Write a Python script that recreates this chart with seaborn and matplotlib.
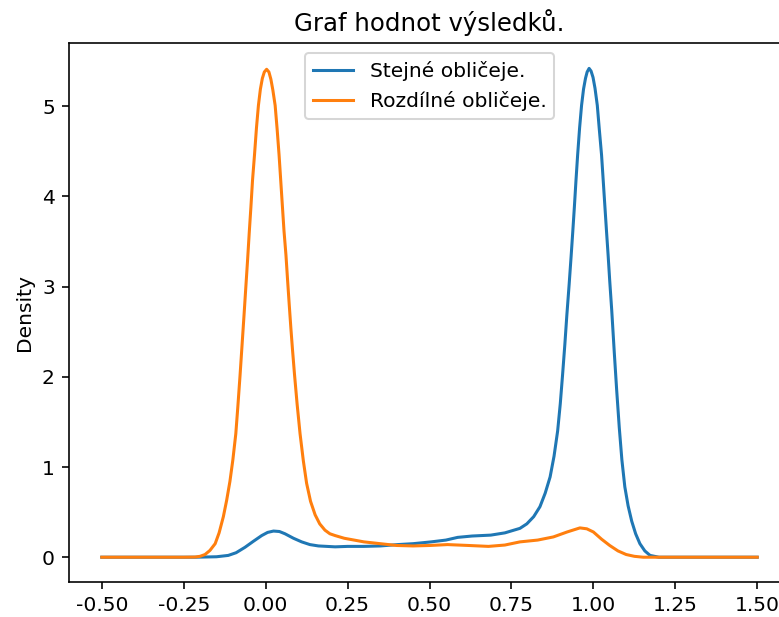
import numpy as np
import pandas as pd
import matplotlib
matplotlib.use('Agg')
import matplotlib.pyplot as plt
import seaborn as sns

# density curves (x, density)
stejne_x = [-0.50, -0.215, -0.15, -0.114, -0.09, -0.063, -0.038, -0.012, 0.006, 0.024, 0.042,
            0.059, 0.085, 0.11, 0.135, 0.161, 0.212, 0.25, 0.30, 0.35, 0.403, 0.45, 0.505, 0.55,
            0.586, 0.63, 0.687, 0.73, 0.776, 0.797, 0.818, 0.837, 0.853, 0.868, 0.880, 0.891,
            0.899, 0.906, 0.913, 0.919, 0.926, 0.932, 0.937, 0.942, 0.947, 0.952, 0.958, 0.964,
            0.970, 0.976, 0.981, 0.987, 0.993, 0.999, 1.005, 1.012, 1.018, 1.025, 1.030, 1.035,
            1.040, 1.045, 1.050, 1.056, 1.060, 1.064, 1.071, 1.079, 1.087, 1.096, 1.106, 1.117,
            1.129, 1.142, 1.157, 1.173, 1.20, 1.25, 1.50]
stejne_y = [0.0, 0.0, 0.005, 0.02, 0.05, 0.11, 0.175, 0.24, 0.275, 0.29, 0.285,
            0.26, 0.21, 0.17, 0.14, 0.125, 0.115, 0.12, 0.12, 0.125, 0.14, 0.15, 0.17, 0.19,
            0.22, 0.235, 0.245, 0.27, 0.32, 0.37, 0.45, 0.56, 0.71, 0.89, 1.12, 1.40,
            1.70, 2.02, 2.36, 2.68, 3.02, 3.33, 3.60, 3.88, 4.18, 4.46, 4.76, 5.01,
            5.19, 5.31, 5.38, 5.42, 5.39, 5.32, 5.20, 5.01, 4.75, 4.46, 4.18, 3.90,
            3.62, 3.35, 3.06, 2.74, 2.50, 2.26, 1.86, 1.44, 1.08, 0.78, 0.57, 0.40,
            0.26, 0.15, 0.07, 0.02, 0.0, 0.0, 0.0]

rozdilne_x = [-0.50, -0.25, -0.215, -0.20, -0.185, -0.17, -0.154, -0.142, -0.129, -0.119, -0.109,
              -0.10, -0.091, -0.085, -0.078, -0.072, -0.066, -0.060, -0.055, -0.050, -0.045,
              -0.040, -0.034, -0.028, -0.022, -0.016, -0.010, -0.004, 0.003, 0.010, 0.016, 0.022,
              0.029, 0.035, 0.041, 0.046, 0.051, 0.056, 0.062, 0.067, 0.072, 0.077, 0.082, 0.088,
              0.096, 0.105, 0.115, 0.125, 0.137, 0.151, 0.165, 0.181, 0.196, 0.212, 0.24, 0.27,
              0.30, 0.35, 0.40, 0.45, 0.50, 0.555, 0.62, 0.68, 0.73, 0.776, 0.83, 0.878, 0.92,
              0.959, 0.98, 1.00, 1.025, 1.05, 1.075, 1.10, 1.125, 1.152, 1.25, 1.50]
rozdilne_y = [0.0, 0.0, 0.002, 0.01, 0.03, 0.075, 0.15, 0.27, 0.45, 0.63, 0.84,
              1.08, 1.37, 1.66, 2.02, 2.35, 2.68, 3.02, 3.30, 3.60, 3.88,
              4.18, 4.46, 4.76, 5.01, 5.19, 5.31, 5.38, 5.41, 5.38, 5.30, 5.18,
              5.01, 4.75, 4.46, 4.18, 3.90, 3.62, 3.35, 3.07, 2.80, 2.54, 2.30, 2.03,
              1.70, 1.37, 1.07, 0.82, 0.62, 0.47, 0.37, 0.30, 0.26, 0.24, 0.21, 0.19,
              0.17, 0.15, 0.13, 0.125, 0.13, 0.14, 0.13, 0.12, 0.135, 0.17, 0.19, 0.225, 0.28,
              0.325, 0.315, 0.28, 0.20, 0.13, 0.07, 0.03, 0.01, 0.0, 0.0, 0.0]

labels = ['Stejné obličeje.', 'Rozdílné obličeje.']
colors = ['#1f77b4', '#ff7f0e']

dpi = 146
fig = plt.figure(figsize=(779 / dpi, 617 / dpi), dpi=dpi)
ax = fig.add_axes([69 / 779, 35.3 / 617, 721 / 779, 538.7 / 617])

sns.lineplot(x=stejne_x, y=stejne_y, ax=ax, color=colors[0], label=labels[0], lw=1.5)
sns.lineplot(x=rozdilne_x, y=rozdilne_y, ax=ax, color=colors[1], label=labels[1], lw=1.5)

ax.set_xlim(-0.6, 1.6)
ax.set_ylim(-0.2715, 5.7015)
ticks = np.arange(-0.5, 1.51, 0.25)
ax.set_xticks(ticks)
ax.set_xticklabels(['%.2f' % t for t in ticks])
ax.set_yticks(range(6))
ax.set_ylabel('Density')
ax.set_xlabel('')
ax.set_title('Graf hodnot výsledků.')
ax.legend(loc='upper center')

fig.savefig('out.png', dpi=dpi)
